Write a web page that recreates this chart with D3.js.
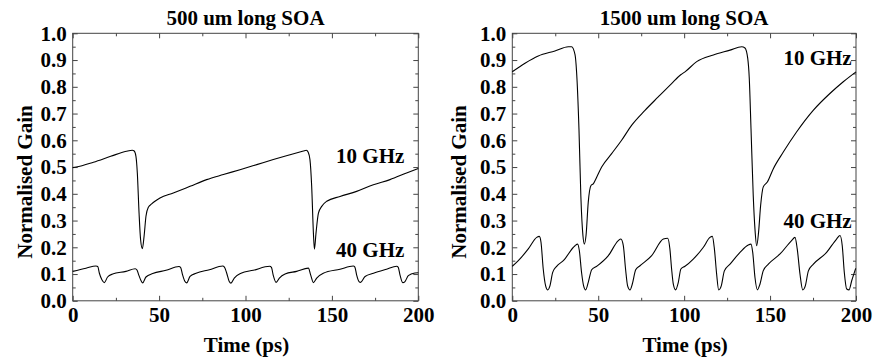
<!DOCTYPE html>
<html>
<head>
<meta charset="utf-8">
<script src="https://cdn.jsdelivr.net/npm/d3@7/dist/d3.min.js"></script>
<style>
  html, body { margin: 0; padding: 0; background: #fff; }
  svg { display: block; }
  text { font-family: "Liberation Serif", "Times New Roman", serif; font-weight: bold; fill: #000; }
</style>
</head>
<body>
<svg id="chart" width="874" height="363"></svg>
<script>
// ---------------- DATA ----------------
const panelTitles = ["500 um long SOA", "1500 um long SOA"];
const xLabel = "Time (ps)";
const yLabel = "Normalised Gain";
const seriesNames = ["10 GHz", "40 GHz"];
const xTickValues = [0, 50, 100, 150, 200];
const xMinorTickValues = [25, 75, 125, 175];
const yTickValues = [0.0, 0.1, 0.2, 0.3, 0.4, 0.5, 0.6, 0.7, 0.8, 0.9, 1.0];
const yMinorTickValues = [0.05, 0.15, 0.25, 0.35, 0.45, 0.55, 0.65, 0.75, 0.85, 0.95];

// 500 um SOA, 10 GHz  [time ps, normalised gain]
const soa500_10GHz = [
  [0,0.498],[2,0.500],[12,0.518],[22,0.540],[31,0.559],[34.5,0.563],[35.6,0.560],[36.6,0.540],
  [37.4,0.478],[38.4,0.328],[39.3,0.228],[40.3,0.195],[41.3,0.241],[42.4,0.316],[43.8,0.350],
  [45.7,0.362],[47.6,0.372],[50.5,0.384],[58.2,0.403],[67.9,0.428],[77.5,0.453],[87.2,0.472],
  [96.8,0.490],[106.5,0.509],[116.1,0.528],[125.8,0.546],[133.5,0.560],[135.2,0.563],[136.3,0.555],
  [137.3,0.528],[138.3,0.428],[139.3,0.253],[139.9,0.193],[140.8,0.253],[142.2,0.328],[144.1,0.353],
  [147,0.372],[154.7,0.390],[164.3,0.409],[174,0.434],[183.6,0.453],[193.2,0.478],[200,0.495]
];
// 500 um SOA, 40 GHz
const soa500_40GHz = [
  [0,0.110],[7.7,0.122],[13.5,0.130],[14.5,0.128],[15.4,0.104],[16.9,0.079],[18.3,0.068],[20.2,0.089],
  [23.1,0.100],[30.8,0.110],[36.2,0.120],[37.2,0.115],[38.2,0.097],[39.5,0.076],[40.5,0.067],[42.4,0.089],
  [46.3,0.102],[54,0.114],[61.5,0.128],[62.5,0.124],[63.6,0.097],[65,0.072],[66,0.067],[67.9,0.091],
  [71.4,0.103],[79.1,0.116],[86.8,0.130],[87.8,0.126],[89.1,0.104],[90.6,0.072],[91.6,0.066],[93.5,0.085],
  [97.4,0.103],[104.5,0.114],[114,0.129],[115,0.125],[116.1,0.094],[117.7,0.069],[119.6,0.085],
  [122.9,0.100],[129.6,0.110],[136.4,0.122],[137.7,0.097],[139.3,0.068],[141.2,0.085],[145,0.103],
  [154.7,0.118],[162.4,0.130],[163.3,0.126],[164.3,0.097],[165.7,0.072],[166.6,0.069],[169.2,0.091],
  [174.1,0.103],[181.6,0.118],[187.5,0.129],[188.4,0.125],[189.4,0.097],[191,0.068],[192.3,0.072],
  [194.2,0.094],[198,0.104],[200,0.105]
];
// 1500 um SOA, 10 GHz
const soa1500_10GHz = [
  [0,0.856],[7.4,0.888],[15.1,0.915],[24.8,0.934],[32.6,0.950],[34.5,0.950],[36.5,0.920],[37.4,0.856],
  [38.8,0.640],[39.9,0.390],[41.1,0.244],[41.9,0.212],[42.9,0.244],[44.2,0.369],[45.8,0.431],[47.1,0.437],
  [49.1,0.462],[52,0.500],[57.8,0.550],[63.6,0.600],[69.4,0.656],[77.2,0.712],[84.9,0.762],[92.7,0.812],
  [98,0.845],[100.5,0.856],[107.3,0.894],[117,0.919],[126.7,0.937],[133.5,0.950],[135.4,0.945],
  [137,0.906],[137.9,0.831],[138.9,0.644],[140.2,0.394],[141.2,0.269],[142.2,0.206],[143.3,0.256],
  [144.5,0.356],[146,0.425],[148.4,0.444],[151.9,0.494],[157.7,0.556],[165.4,0.631],[175.1,0.712],
  [184.8,0.775],[192.6,0.819],[200,0.856]
];
// 1500 um SOA, 40 GHz
const soa1500_40GHz = [
  [0,0.129],[3.5,0.150],[9.3,0.194],[14.2,0.237],[15.7,0.241],[16.7,0.219],[18,0.119],[19.4,0.056],
  [20.6,0.041],[21.9,0.056],[23.5,0.106],[25.8,0.129],[29.7,0.150],[36.5,0.206],[38,0.212],[39,0.188],
  [40.3,0.106],[41.5,0.056],[42.7,0.041],[44.2,0.069],[46.2,0.116],[49.1,0.129],[55.9,0.169],[61.7,0.225],
  [63.2,0.231],[64.6,0.206],[65.9,0.119],[67.1,0.056],[68.5,0.041],[69.8,0.062],[71.8,0.116],[74.3,0.131],
  [81.1,0.169],[87.9,0.231],[90.4,0.234],[91.7,0.194],[92.7,0.119],[93.7,0.062],[95,0.041],[96.6,0.069],
  [98.1,0.119],[100.5,0.129],[105.3,0.156],[111.2,0.200],[115,0.237],[116.4,0.241],[117.6,0.194],
  [118.9,0.100],[120.1,0.041],[121.6,0.056],[123.4,0.112],[126.7,0.137],[132.5,0.181],[137.3,0.209],
  [138.9,0.212],[139.9,0.181],[141.2,0.088],[142.6,0.041],[144.1,0.062],[146,0.112],[149,0.137],
  [155.8,0.175],[162.5,0.225],[164.5,0.237],[165.8,0.194],[167.4,0.100],[169,0.041],[170.5,0.056],
  [172.3,0.112],[175.2,0.137],[182.9,0.181],[188.7,0.231],[190.7,0.244],[192,0.206],[193.2,0.106],
  [194.6,0.044],[195.9,0.041],[197.5,0.075],[199.8,0.121]
];

// ---------------- LAYOUT ----------------
const FONT = 21;
const panels = [
  { title: panelTitles[0], left: 72.7, right: 418.3, series: [soa500_10GHz, soa500_40GHz],
    yLabelX: 31.7, labels: [{ y: 163.3, dx: 14 }, { y: 256.7, dx: 14 }] },
  { title: panelTitles[1], left: 512.3, right: 856, series: [soa1500_10GHz, soa1500_40GHz],
    yLabelX: 465.7, labels: [{ y: 65, dx: 4.3 }, { y: 227.7, dx: 4.3 }] }
];
const plotTop = 33.3, plotBottom = 300.8;

const svg = d3.select("#chart");

panels.forEach(p => {
  const x = d3.scaleLinear().domain([0, 200]).range([p.left, p.right]);
  const y = d3.scaleLinear().domain([0, 1]).range([plotBottom, plotTop]);
  const g = svg.append("g");

  // frame
  g.append("rect")
    .attr("x", p.left).attr("y", plotTop)
    .attr("width", p.right - p.left).attr("height", plotBottom - plotTop)
    .attr("fill", "none").attr("stroke", "#444").attr("stroke-width", 1);

  function styleAxis(sel) {
    sel.select(".domain").remove();
    sel.selectAll(".tick line").attr("stroke", "#444");
    sel.selectAll("text").attr("font-size", FONT).attr("font-family", null);
  }

  // bottom (with labels)
  g.append("g").attr("transform", `translate(0,${plotBottom})`)
    .call(d3.axisBottom(x).tickValues(xTickValues).tickFormat(d3.format("d"))
      .tickSize(-5).tickSizeOuter(0).tickPadding(6))
    .call(styleAxis);
  g.append("g").attr("transform", `translate(0,${plotBottom})`)
    .call(d3.axisBottom(x).tickValues(xMinorTickValues).tickFormat("").tickSize(-3).tickSizeOuter(0))
    .call(styleAxis);
  // top
  g.append("g").attr("transform", `translate(0,${plotTop})`)
    .call(d3.axisTop(x).tickValues(xTickValues).tickFormat("").tickSize(-5).tickSizeOuter(0))
    .call(styleAxis);
  g.append("g").attr("transform", `translate(0,${plotTop})`)
    .call(d3.axisTop(x).tickValues(xMinorTickValues).tickFormat("").tickSize(-3).tickSizeOuter(0))
    .call(styleAxis);
  // left (with labels)
  g.append("g").attr("transform", `translate(${p.left},0)`)
    .call(d3.axisLeft(y).tickValues(yTickValues).tickFormat(d3.format(".1f"))
      .tickSize(-5).tickSizeOuter(0).tickPadding(6))
    .call(styleAxis);
  g.append("g").attr("transform", `translate(${p.left},0)`)
    .call(d3.axisLeft(y).tickValues(yMinorTickValues).tickFormat("").tickSize(-3).tickSizeOuter(0))
    .call(styleAxis);
  // right
  g.append("g").attr("transform", `translate(${p.right},0)`)
    .call(d3.axisRight(y).tickValues(yTickValues).tickFormat("").tickSize(-5).tickSizeOuter(0))
    .call(styleAxis);
  g.append("g").attr("transform", `translate(${p.right},0)`)
    .call(d3.axisRight(y).tickValues(yMinorTickValues).tickFormat("").tickSize(-3).tickSizeOuter(0))
    .call(styleAxis);

  // title
  g.append("text")
    .attr("x", (p.left + p.right) / 2).attr("y", 25)
    .attr("text-anchor", "middle").attr("font-size", FONT)
    .text(p.title);

  // x label
  g.append("text")
    .attr("x", (p.left + p.right) / 2 + 1).attr("y", 351.5)
    .attr("text-anchor", "middle").attr("font-size", FONT)
    .text(xLabel);

  // y label
  g.append("text")
    .attr("transform", `translate(${p.yLabelX},182) rotate(-90)`)
    .attr("text-anchor", "middle").attr("font-size", FONT)
    .text(yLabel);

  // lines
  const line = d3.line()
    .x(d => x(d[0])).y(d => y(d[1]))
    .curve(d3.curveMonotoneX);
  p.series.forEach((s, i) => {
    g.append("path")
      .datum(s)
      .attr("d", line)
      .attr("fill", "none")
      .attr("stroke", "#000")
      .attr("stroke-width", 1.1)
      .attr("stroke-linejoin", "round");
    g.append("text")
      .attr("x", p.right - p.labels[i].dx).attr("y", p.labels[i].y)
      .attr("text-anchor", "end").attr("font-size", FONT)
      .text(seriesNames[i]);
  });
});
</script>
</body>
</html>
